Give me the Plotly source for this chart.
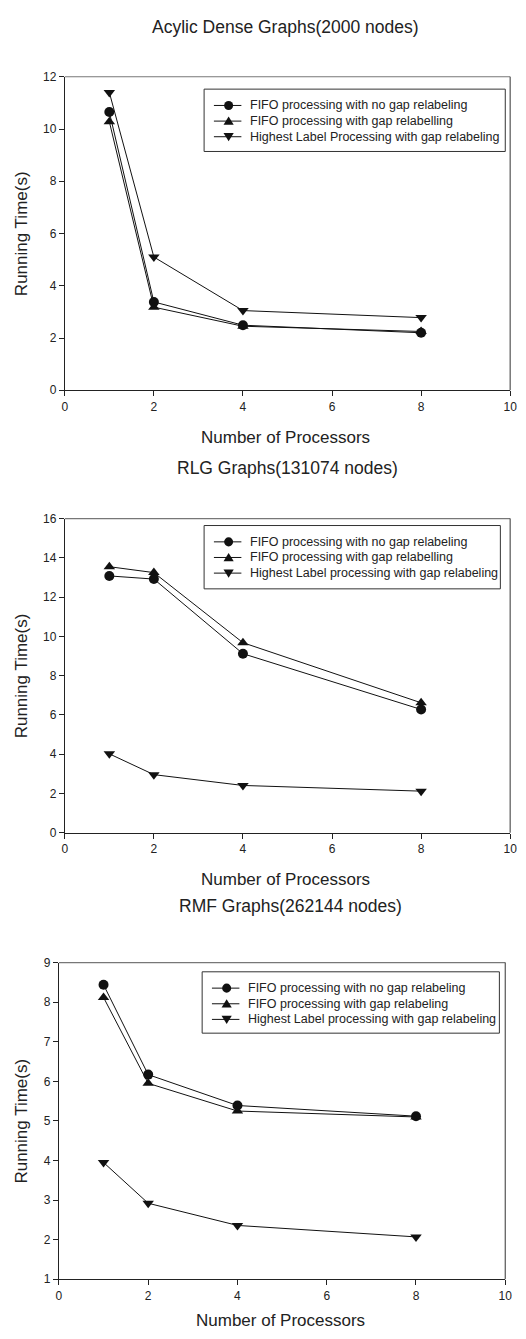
import plotly.graph_objects as go

W, H = 526, 1339

procs = [1, 2, 4, 8]

# Panel 1: Acylic Dense Graphs (2000 nodes)
p1_fifo_nogap = [10.65, 3.38, 2.49, 2.20]
p1_fifo_gap = [10.28, 3.18, 2.45, 2.25]
p1_hl_gap = [11.40, 5.10, 3.05, 2.78]

# Panel 2: RLG Graphs (131074 nodes)
p2_fifo_nogap = [13.08, 12.92, 9.12, 6.28]
p2_fifo_gap = [13.55, 13.25, 9.68, 6.62]
p2_hl_gap = [4.02, 2.96, 2.41, 2.12]

# Panel 3: RMF Graphs (262144 nodes)
p3_fifo_nogap = [8.44, 6.17, 5.39, 5.12]
p3_fifo_gap = [8.12, 5.95, 5.25, 5.10]
p3_hl_gap = [3.95, 2.92, 2.36, 2.07]

titles = ["Acylic Dense Graphs(2000 nodes)", "RLG Graphs(131074 nodes)", "RMF Graphs(262144 nodes)"]
names = [
    ["FIFO processing with no gap relabeling", "FIFO processing with gap relabelling",
     "Highest Label Processing with gap relabeling"],
    ["FIFO processing with no gap relabeling", "FIFO processing with gap relabelling",
     "Highest Label processing with gap relabeling"],
    ["FIFO processing with no gap relabeling", "FIFO processing with gap relabeling",
     "Highest Label processing with gap relabeling"],
]
data = [
    [p1_fifo_nogap, p1_fifo_gap, p1_hl_gap],
    [p2_fifo_nogap, p2_fifo_gap, p2_hl_gap],
    [p3_fifo_nogap, p3_fifo_gap, p3_hl_gap],
]
yranges = [(0, 12), (0, 16), (1, 9)]
ydticks = [2, 2, 1]
xranges = [(0, 10), (0, 10), (0, 10)]

# pixel geometry (left, right, top, bottom)
boxes = [
    (63, 517, 70.5, 387.3),
    (63, 517, 517, 834.5),
    (57, 512, 965.7, 1285.7),
]
# legend boxes (left, top, right, bottom) in pixels
legend_boxes = [(205, 83, 512, 146), (205, 524, 507, 588), (203, 975, 506, 1037)]
title_pos = [(288, 20), (290, 466), (293, 908)]
xtitle_y = [435, 882, 1327]

symbols = ["circle", "triangle-up", "triangle-down"]
FONT = "Liberation Sans, Arial, sans-serif"
INK = "#111"

fig = go.Figure()
layout = dict(
    width=W, height=H, margin=dict(l=0, r=0, t=0, b=0),
    paper_bgcolor="white", plot_bgcolor="white",
    font=dict(family=FONT, color="#222"),
    showlegend=False,
)
annotations = []
shapes = []


def px(x):
    return x / W


def py(y):
    return 1 - y / H


def pline(x0, y0, x1, y1, color, width):
    return dict(type="line", xref="paper", yref="paper",
                x0=px(x0), x1=px(x1), y0=py(y0), y1=py(y1),
                line=dict(color=color, width=width))


def legend_marker(kind, cx, cy):
    if kind == "circle":
        r = 4.6
        return dict(type="circle", xref="paper", yref="paper",
                    x0=px(cx - r), x1=px(cx + r), y0=py(cy + r), y1=py(cy - r),
                    fillcolor=INK, line=dict(color=INK, width=0))
    h = 4.6
    w = 5.2
    if kind == "triangle-up":
        pts = [(cx, cy - h), (cx + w, cy + h * 0.8), (cx - w, cy + h * 0.8)]
    else:
        pts = [(cx, cy + h), (cx + w, cy - h * 0.8), (cx - w, cy - h * 0.8)]
    path = "M " + " L ".join(f"{px(x):.6f},{py(y):.6f}" for x, y in pts) + " Z"
    return dict(type="path", xref="paper", yref="paper", path=path,
                fillcolor=INK, line=dict(color=INK, width=0))


for i in range(3):
    xa = "xaxis" if i == 0 else f"xaxis{i+1}"
    ya = "yaxis" if i == 0 else f"yaxis{i+1}"
    xref = "x" if i == 0 else f"x{i+1}"
    yref = "y" if i == 0 else f"y{i+1}"
    l, r, t, b = boxes[i]
    for j in range(3):
        fig.add_trace(go.Scatter(
            x=procs, y=data[i][j], mode="lines+markers", name=names[i][j],
            xaxis=xref, yaxis=yref,
            line=dict(color=INK, width=1),
            marker=dict(symbol=symbols[j], size=10, color=INK,
                        line=dict(width=0)),
        ))
    layout[xa] = dict(
        domain=[px(l), px(r)], range=list(xranges[i]), anchor=yref,
        tickmode="linear", tick0=0, dtick=2, ticks="outside", ticklen=5,
        tickcolor="#222", showline=True, linecolor="#222", linewidth=1,
        showgrid=False, zeroline=False,
        tickfont=dict(size=12, family=FONT, color="#222"),
    )
    layout[ya] = dict(
        domain=[py(b), py(t)], range=list(yranges[i]), anchor=xref,
        tickmode="linear", tick0=yranges[i][0], dtick=ydticks[i], ticks="outside", ticklen=5,
        tickcolor="#222", showline=True, linecolor="#222", linewidth=1,
        showgrid=False, zeroline=False,
        tickfont=dict(size=12, family=FONT, color="#222"),
    )
    # top and right frame lines (gray)
    shapes.append(pline(l, t, r, t, "#777", 1.2))
    shapes.append(pline(r, t, r, b, "#555", 1.2))

    # manual legend
    bl, bt, br, bb = legend_boxes[i]
    shapes.append(dict(type="rect", xref="paper", yref="paper",
                       x0=px(bl), x1=px(br), y0=py(bb), y1=py(bt),
                       fillcolor="white", line=dict(color="#333", width=1)))
    for j in range(3):
        cy = bt + 16.5 + 15.8 * j
        shapes.append(pline(bl + 10, cy, bl + 38, cy, INK, 1))
        shapes.append(legend_marker(symbols[j], bl + 25, cy))
        annotations.append(dict(text=names[i][j], x=px(bl + 45), y=py(cy),
                                xref="paper", yref="paper", showarrow=False,
                                xanchor="left", yanchor="middle",
                                font=dict(size=12.5, family=FONT, color="#222")))

    tx, ty = title_pos[i]
    annotations.append(dict(text=titles[i], x=px(tx), y=py(ty),
                            xref="paper", yref="paper", showarrow=False,
                            xanchor="center", yanchor="middle",
                            font=dict(size=17.5, family=FONT, color="#222")))
    annotations.append(dict(text="Number of Processors", x=px((l + r) / 2 - 2), y=py(xtitle_y[i]),
                            xref="paper", yref="paper", showarrow=False,
                            xanchor="center", yanchor="middle",
                            font=dict(size=17, family=FONT, color="#222")))
    annotations.append(dict(text="Running Time(s)", x=px(19), y=py((t + b) / 2),
                            xref="paper", yref="paper", showarrow=False, textangle=-90,
                            xanchor="center", yanchor="middle",
                            font=dict(size=17, family=FONT, color="#222")))

layout["annotations"] = annotations
layout["shapes"] = shapes
fig.update_layout(**layout)
fig.write_html("out.html", config={"displayModeBar": False},
               post_script="document.body.style.margin='0';document.body.style.overflow='hidden';")
